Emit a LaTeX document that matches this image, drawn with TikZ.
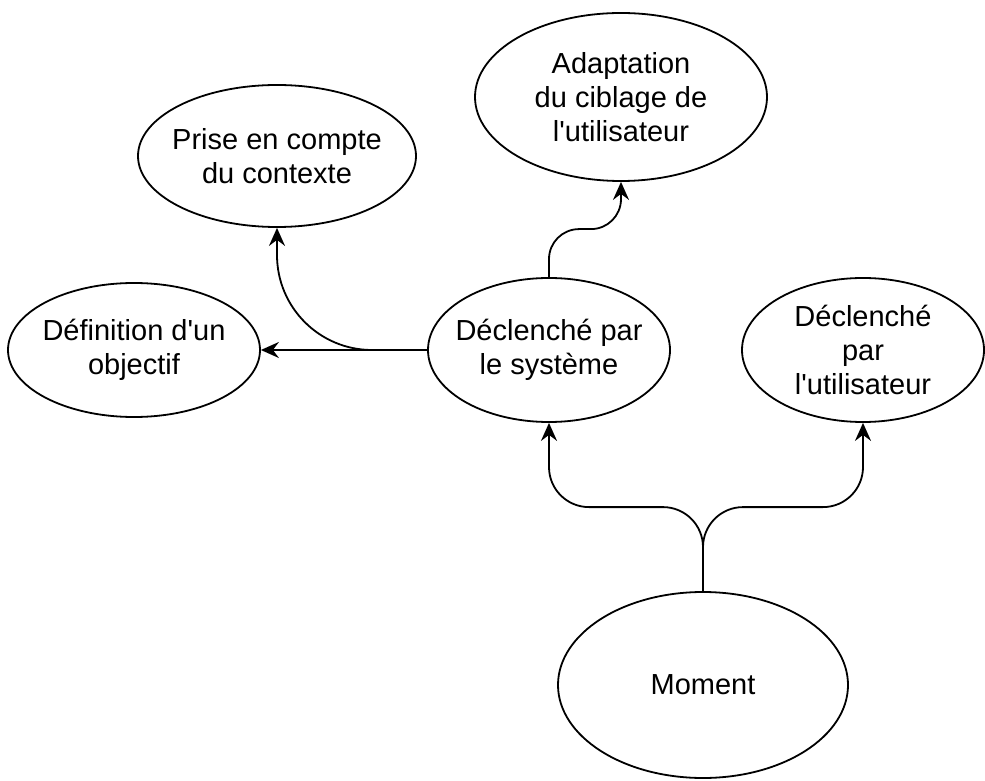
\documentclass[tikz,border=0pt]{standalone}
\usepackage{fontspec}
\setmainfont{Liberation Sans}
\usetikzlibrary{shapes.geometric,arrows.meta}

\begin{document}
\begin{tikzpicture}[
    x=1pt, y=1pt,
    bubble/.style={ellipse, draw, line width=1.8pt, inner sep=-60pt, align=center, font=\fontsize{29}{34}\selectfont},
    link/.style={line width=1.8pt, -{Stealth[length=18pt, width=16pt, inset=6pt]}}
  ]
    \useasboundingbox (0,0) rectangle (985,780);

    \node[bubble, minimum width=290pt, minimum height=186pt] (moment) at (703,95) {Moment};
    \node[bubble, minimum width=242pt, minimum height=144pt] (sys) at (549,430) {Déclenché par\\le système};
    \node[bubble, minimum width=242pt, minimum height=144pt] (user) at (863,430) {Déclenché\\par\\l\textquotesingle utilisateur};
    \node[bubble, minimum width=252pt, minimum height=134pt] (goal) at (134,430) {Définition d\textquotesingle un\\objectif};
    \node[bubble, minimum width=278pt, minimum height=142pt] (ctx) at (277,624) {Prise en compte\\du contexte};
    \node[bubble, minimum width=292pt, minimum height=168pt] (adapt) at (621,683) {Adaptation\\du ciblage de\\l\textquotesingle utilisateur};

    \draw[link, rounded corners=40pt] (moment.north) -- ++(0,84) -| (sys.south);
    \draw[link, rounded corners=40pt] (moment.north) -- ++(0,84) -| (user.south);
    \draw[link, rounded corners=30pt] (sys.north) -- ++(0,48) -| (adapt.south);
    \draw[link, rounded corners=95pt] (sys.west) -| (ctx.south);
    \draw[link] (sys.west) -- (goal.east);

\end{tikzpicture}
\end{document}
